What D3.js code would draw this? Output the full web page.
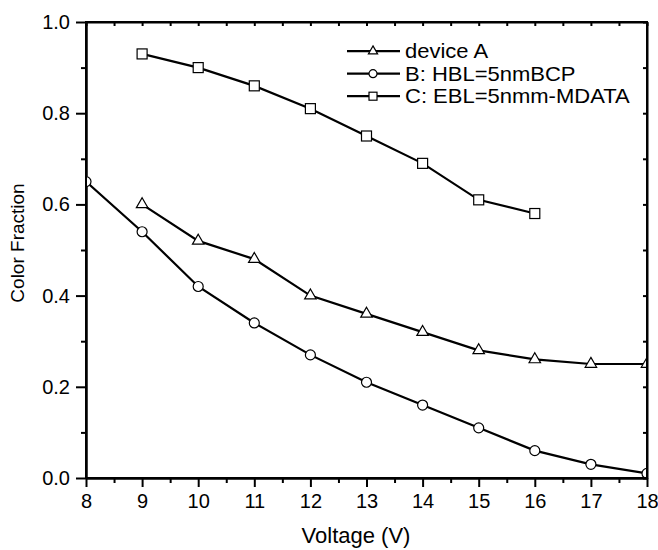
<!DOCTYPE html>
<html>
<head>
<meta charset="utf-8">
<script src="https://cdn.jsdelivr.net/npm/d3@7"></script>
<style>
  body { margin: 0; background: #fff; }
  svg { display: block; font-family: "Liberation Sans", Arial, sans-serif; }
  .axis path, .axis line { stroke: #000; stroke-width: 2; }
  .axis text { font-size: 20px; fill: #000; font-family: "Liberation Sans", Arial, sans-serif; }
</style>
</head>
<body>
<div id="container"></div>
<script>
let w = 658;
let h = 550;
let padLeft = 86, padRight = 647, padTop = 22, padBottom = 478;

// data
let voltsA = [9, 10, 11, 12, 13, 14, 15, 16, 17, 18];
let deviceA = [0.60, 0.52, 0.48, 0.40, 0.36, 0.32, 0.28, 0.26, 0.25, 0.25];
let voltsB = [8, 9, 10, 11, 12, 13, 14, 15, 16, 17, 18];
let deviceB = [0.65, 0.54, 0.42, 0.34, 0.27, 0.21, 0.16, 0.11, 0.06, 0.03, 0.01];
let voltsC = [9, 10, 11, 12, 13, 14, 15, 16];
let deviceC = [0.93, 0.90, 0.86, 0.81, 0.75, 0.69, 0.61, 0.58];

let seriesNames = ["device A", "B: HBL=5nmBCP", "C: EBL=5nmm-MDATA"];
let seriesShapes = ["triangle", "circle", "square"];
let xTicks = [8, 9, 10, 11, 12, 13, 14, 15, 16, 17, 18];
let yTicks = [0.0, 0.2, 0.4, 0.6, 0.8, 1.0];

let viz = d3.select("#container")
  .append("svg")
    .attr("width", w)
    .attr("height", h)
;

let xScale = d3.scaleLinear().domain([8, 18]).range([padLeft, padRight]);
let yScale = d3.scaleLinear().domain([0, 1]).range([padBottom, padTop]);

// minor ticks first so major ones sit on top
viz.append("g").attr("class", "axis")
  .attr("transform", "translate(0," + padBottom + ")")
  .call(d3.axisBottom(xScale).tickValues(d3.range(8.5, 18, 1)).tickSize(5).tickSizeOuter(0).tickFormat(""));
viz.append("g").attr("class", "axis")
  .attr("transform", "translate(" + padLeft + ",0)")
  .call(d3.axisLeft(yScale).tickValues([0.1, 0.3, 0.5, 0.7, 0.9]).tickSize(5).tickSizeOuter(0).tickFormat(""));

// top and right mirror ticks, pointing inward
viz.append("g").attr("class", "axis")
  .attr("transform", "translate(0," + padTop + ")")
  .call(d3.axisTop(xScale).tickValues(d3.range(8, 18.01, 0.5)).tickSize(-4).tickSizeOuter(0).tickFormat(""));
viz.append("g").attr("class", "axis")
  .attr("transform", "translate(" + padRight + ",0)")
  .call(d3.axisRight(yScale).tickValues(d3.range(0, 1.01, 0.1)).tickSize(-4).tickSizeOuter(0).tickFormat(""));

let xAxisGroup = viz.append("g").attr("class", "axis")
  .attr("transform", "translate(0," + padBottom + ")")
  .call(d3.axisBottom(xScale).tickValues(xTicks).tickSize(9).tickSizeOuter(0).tickPadding(7).tickFormat(d3.format("d")));

let yAxisGroup = viz.append("g").attr("class", "axis")
  .attr("transform", "translate(" + padLeft + ",0)")
  .call(d3.axisLeft(yScale).tickValues(yTicks).tickSize(10).tickSizeOuter(0).tickPadding(6).tickFormat(d3.format(".1f")));

// axis titles
viz.append("text")
  .text("Voltage (V)")
  .attr("x", 356)
  .attr("y", 543)
  .attr("text-anchor", "middle")
  .attr("font-size", "22px")
;
viz.append("text")
  .text("Color Fraction")
  .attr("transform", "translate(24,243) rotate(-90)")
  .attr("text-anchor", "middle")
  .attr("font-size", "19px")
;

// clip marks to plot area
viz.append("clipPath").attr("id", "plotclip")
  .append("rect")
    .attr("x", padLeft).attr("y", padTop)
    .attr("width", padRight - padLeft).attr("height", padBottom - padTop);

let vizGroup = viz.append("g").attr("clip-path", "url(#plotclip)");

function drawMarker(g, shape, size){
  if (shape == "circle"){
    g.append("circle").attr("r", size / 2);
  } else if (shape == "square"){
    g.append("rect").attr("x", -size / 2).attr("y", -size / 2).attr("width", size).attr("height", size);
  } else {
    let s = size * 1.15;
    let ht = s * Math.sqrt(3) / 2;
    g.append("path").attr("d", "M0," + (-ht * 2 / 3) + "L" + (s / 2) + "," + (ht / 3) + "L" + (-s / 2) + "," + (ht / 3) + "Z");
  }
  g.selectAll("circle, rect, path").attr("fill", "white").attr("stroke", "#000").attr("stroke-width", 1.2);
}

let allSeries = [
  { xs: voltsA, ys: deviceA, shape: seriesShapes[0] },
  { xs: voltsB, ys: deviceB, shape: seriesShapes[1] },
  { xs: voltsC, ys: deviceC, shape: seriesShapes[2] }
];

let line = d3.line()
  .x(function(d){ return xScale(d[0]); })
  .y(function(d){ return yScale(d[1]); });

allSeries.forEach(function(s){
  let pts = s.xs.map(function(x, i){ return [x, s.ys[i]]; });
  vizGroup.append("path")
    .attr("d", line(pts))
    .attr("fill", "none")
    .attr("stroke", "#000")
    .attr("stroke-width", 2.2);
  pts.forEach(function(p){
    let g = vizGroup.append("g").attr("transform", "translate(" + xScale(p[0]) + "," + yScale(p[1]) + ")");
    drawMarker(g, s.shape, 10);
  });
});

// frame top + right
viz.append("rect")
  .attr("x", padLeft).attr("y", padTop)
  .attr("width", padRight - padLeft).attr("height", padBottom - padTop)
  .attr("fill", "none").attr("stroke", "#000").attr("stroke-width", 2);

// legend (rows are tight, so the text is a bit narrow-height and stretched wide)
let legend = viz.append("g");
seriesNames.forEach(function(name, i){
  let y = 51.2 + i * 22.5;
  legend.append("line")
    .attr("x1", 347).attr("x2", 400).attr("y1", y).attr("y2", y)
    .attr("stroke", "#000").attr("stroke-width", 2.2);
  let g = legend.append("g").attr("transform", "translate(373," + y + ")");
  drawMarker(g, seriesShapes[i], 8);
  legend.append("text")
    .text(name)
    .attr("transform", "translate(405," + (y + 7.2) + ") scale(1.1,1)")
    .attr("font-size", "20px");
});
</script>
</body>
</html>
